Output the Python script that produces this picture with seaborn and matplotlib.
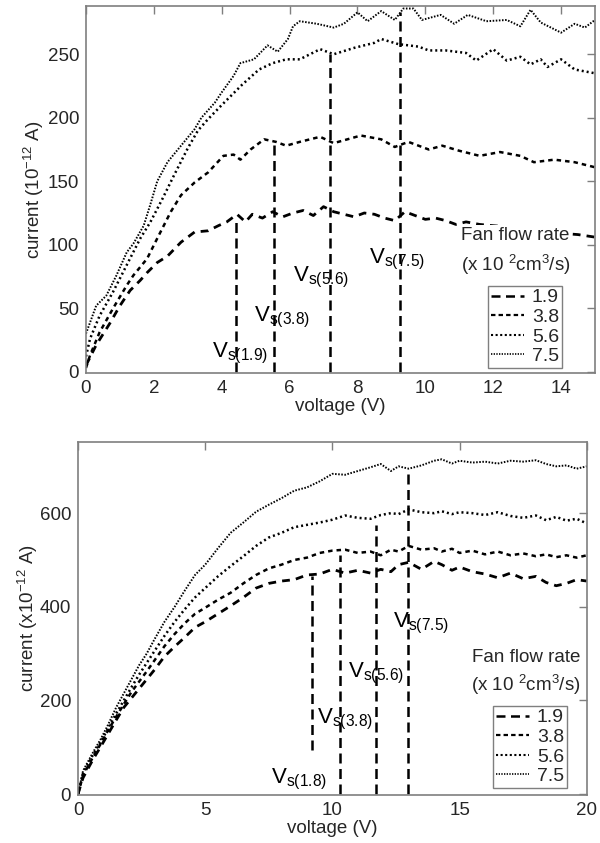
import matplotlib
matplotlib.use("Agg")
import matplotlib.pyplot as plt
import numpy as np
import pandas as pd
import seaborn as sns
from matplotlib.lines import Line2D

sns.set_style("white")
plt.rcParams["font.family"] = ["Liberation Sans", "DejaVu Sans"]
plt.rcParams["mathtext.fontset"] = "custom"
plt.rcParams["mathtext.rm"] = "Liberation Sans"
plt.rcParams["mathtext.it"] = "Liberation Sans:italic"
plt.rcParams["mathtext.bf"] = "Liberation Sans:bold"

# ---------------- data: top panel ----------------
rates = ["1.9", "3.8", "5.6", "7.5"]

top_x_19 = [0, 0.3, 0.7, 1.0, 1.3, 1.6, 1.8, 2.1, 2.4, 2.8, 3.2, 3.6, 3.9, 4.15, 4.45, 4.7, 4.9, 5.2, 5.5, 5.8,
            6.1, 6.4, 6.7, 7.0, 7.3, 7.6, 7.9, 8.2, 8.5, 8.8, 9.1, 9.4, 9.7, 10.0, 10.3, 10.6, 10.9, 11.2,
            11.6, 12.0, 12.5, 13.0, 13.5, 14.0, 14.5, 15.0]
top_y_19 = [5, 21, 38, 52, 64, 72, 78, 86, 91, 102, 110, 111, 115, 118, 124, 118, 124, 121, 126, 122,
            125, 127, 123, 130, 126, 124, 122, 125, 124, 121, 119, 126, 123, 120, 121, 119, 116, 118,
            116, 115, 114, 112, 110, 109, 108, 106]

top_x_38 = [0, 0.12, 0.4, 0.8, 1.2, 1.4, 1.8, 2.1, 2.5, 2.8, 3.2, 3.6, 4.05, 4.35, 4.55, 4.85, 5.25, 5.6,
            5.9, 6.3, 6.9, 7.3, 7.7, 8.1, 8.7, 9.1, 9.5, 10.1, 10.5, 11.0, 11.6, 12.2, 12.8, 13.2, 13.8,
            14.4, 15.0]
top_y_38 = [3, 13, 31, 50, 68, 76, 89, 105, 126, 139, 149, 157, 170, 171, 167, 175, 183, 181,
            178, 181, 185, 180, 183, 186, 183, 177, 181, 175, 178, 174, 170, 173, 170, 165, 167,
            165, 161]

top_x_56 = [0, 0.12, 0.4, 0.8, 1.2, 1.6, 1.9, 2.25, 2.6, 3.0, 3.3, 3.6, 4.0, 4.3, 4.6, 5.1, 5.5, 5.9,
            6.3, 6.9, 7.3, 7.9, 8.5, 8.7, 9.2, 9.8, 10.1, 10.6, 11.2, 11.5, 12.0, 12.4, 12.8, 13.1,
            13.4, 13.6, 14.0, 14.4, 15.0]
top_y_56 = [12, 26, 44, 63, 84, 105, 118, 136, 155, 176, 190, 199, 210, 218, 226, 238, 243, 246,
            246, 254, 250, 255, 259, 262, 258, 256, 253, 253, 251, 245, 254, 245, 248, 242,
            246, 240, 246, 238, 235]

top_x_75 = [0, 0.3, 0.6, 0.9, 1.2, 1.4, 1.7, 1.9, 2.1, 2.4, 2.8, 3.2, 3.4, 3.8, 4.0, 4.35, 4.55, 4.95,
            5.35, 5.65, 5.95, 6.1, 6.3, 6.8, 7.3, 7.6, 8.0, 8.3, 8.7, 9.1, 9.35, 9.65, 9.9, 10.45,
            10.85, 11.25, 11.8, 12.4, 12.8, 13.1, 13.4, 14.0, 14.4, 14.7, 15.0]
top_y_75 = [30, 52, 60, 76, 94, 101, 115, 132, 150, 165, 178, 191, 200, 212, 220, 233, 243, 246,
            257, 252, 262, 272, 276, 274, 271, 274, 283, 276, 284, 277, 286, 286, 277, 281,
            274, 281, 276, 277, 272, 285, 275, 267, 274, 271, 277]

top_vs_x = [4.43, 5.55, 7.2, 9.24]
top_vs_top = [118, 181, 250, 283]
top_vs_labels = ["1.9", "3.8", "5.6", "7.5"]
top_lab_x = [3.7, 4.95, 6.1, 8.35]
top_lab_y = [11, 40, 71, 85]

# ---------------- data: bottom panel ----------------
bot_x = [0, 0.1, 0.2, 0.4, 0.6, 0.9, 1.2, 1.5, 1.8, 2.1, 2.4, 2.7, 3.0, 3.4, 3.8, 4.2, 4.6, 5.0, 5.5,
         6.0, 6.5, 7.0, 7.5, 8.0, 8.5, 9.0, 9.5, 10.0, 10.5, 11.0, 11.5, 11.9, 12.3, 12.6, 13.0, 13.5,
         14.0, 14.3, 14.7, 15.0, 15.5, 16.0, 16.5, 17.0, 17.5, 18.0, 18.4, 18.8, 19.2, 19.6, 20.0]
bot_y_75 = [0, 25, 50, 70, 90, 118, 150, 185, 215, 245, 275, 300, 330, 368, 400, 435, 468, 490, 525,
            558, 580, 603, 618, 632, 648, 655, 668, 684, 682, 690, 698, 705, 690, 700, 695, 702,
            712, 715, 706, 712, 708, 710, 706, 712, 710, 713, 705, 700, 702, 695, 700]
bot_y_56 = [0, 22, 45, 65, 85, 112, 142, 172, 200, 228, 255, 280, 305, 338, 368, 395, 420, 440, 465,
            487, 508, 530, 548, 558, 570, 575, 580, 586, 595, 590, 588, 596, 600, 598, 608, 602,
            600, 604, 598, 602, 600, 596, 602, 594, 590, 595, 585, 592, 584, 588, 578]
bot_y_38 = [0, 20, 40, 60, 80, 108, 138, 165, 192, 218, 240, 262, 285, 316, 342, 365, 385, 398, 415,
            430, 450, 468, 482, 490, 500, 505, 515, 520, 522, 515, 518, 510, 522, 518, 530, 522,
            525, 518, 524, 515, 520, 512, 518, 510, 514, 508, 512, 506, 510, 505, 510]
bot_y_19 = [0, 18, 35, 55, 75, 102, 130, 158, 185, 205, 225, 245, 265, 294, 315, 335, 356, 368, 385,
            402, 420, 440, 450, 455, 458, 468, 470, 480, 472, 478, 472, 480, 475, 490, 495, 480,
            497, 490, 478, 485, 475, 470, 462, 472, 460, 465, 452, 445, 450, 458, 455]

bot_vs_x = [9.18, 10.3, 11.71, 12.97]
bot_vs_lo = [94, 0, 0, 0]
bot_vs_hi = [465, 510, 575, 695]
bot_vs_labels = ["1.8", "3.8", "5.6", "7.5"]
bot_lab_x = [7.6, 9.38, 10.6, 12.4]
bot_lab_y = [23, 152, 250, 355]

# ---------------- styles ----------------
line_styles = {
    "1.9": dict(linewidth=2.0, linestyle=(0, (2.8, 2.2))),
    "3.8": dict(linewidth=1.8, linestyle=(0, (1.8, 1.6))),
    "5.6": dict(linewidth=1.8, linestyle=(0, (0.8, 1.2))),
    "7.5": dict(linewidth=1.4, linestyle=(0, (0.8, 0.8))),
}
legend_styles = {
    "1.9": dict(linewidth=1.8, linestyle=(0, (3.6, 2.2))),
    "3.8": dict(linewidth=1.6, linestyle=(0, (2.0, 1.4))),
    "5.6": dict(linewidth=1.5, linestyle=(0, (1.0, 1.2))),
    "7.5": dict(linewidth=1.2, linestyle=(0, (0.8, 0.8))),
}
GRAY = "#7f7f7f"
FS = 13.5

fig = plt.figure(figsize=(6.0, 8.43), dpi=100)
ax1 = fig.add_axes([0.1433, 0.5575, 0.8484, 0.4354])
ax2 = fig.add_axes([0.13, 0.0569, 0.848, 0.4188])

top_series = {"1.9": (top_x_19, top_y_19), "3.8": (top_x_38, top_y_38),
              "5.6": (top_x_56, top_y_56), "7.5": (top_x_75, top_y_75)}
bot_series = {"1.9": (bot_x, bot_y_19), "3.8": (bot_x, bot_y_38),
              "5.6": (bot_x, bot_y_56), "7.5": (bot_x, bot_y_75)}


def draw_panel(ax, series, vs_x, vs_lo, vs_hi, vs_labels, lab_x, lab_y,
               xlim, ylim, xticks, yticks, ylabel, ylabelpad, title_xy, legend_anchor):
    for r in rates:
        xs, ys = series[r]
        df = pd.DataFrame({"V": xs, "I": ys})
        sns.lineplot(data=df, x="V", y="I", ax=ax, color="black", errorbar=None,
                     legend=False, **line_styles[r])
    ax.vlines(vs_x, vs_lo, vs_hi, colors="black", linewidth=1.8,
              linestyles=[(0, (4.0, 2.2))])
    for lab, lx, ly in zip(vs_labels, lab_x, lab_y):
        ax.text(lx, ly, r"V$_{\mathregular{s(" + lab + r")}}$", fontsize=16,
                ha="left", va="baseline", color="black")
    ax.set_xlim(*xlim)
    ax.set_ylim(*ylim)
    ax.set_xticks(xticks)
    ax.set_yticks(yticks)
    ax.set_xlabel("voltage (V)", fontsize=FS, labelpad=1)
    ax.set_ylabel(ylabel, fontsize=FS, labelpad=ylabelpad)
    ax.tick_params(direction="in", top=True, right=True, length=6, width=1,
                   color=GRAY, labelsize=FS, pad=5)
    for sp in ax.spines.values():
        sp.set_color(GRAY)
        sp.set_linewidth(1.2)
    tx, ty1, ty2 = title_xy
    ax.text(tx, ty1, "Fan flow rate", fontsize=FS, ha="center", va="center",
            bbox=dict(fc="white", ec="none", pad=1.5), zorder=5)
    ax.text(tx, ty2, r"(x 10 $^{2}$cm$^{3}$/s)", fontsize=FS, ha="center", va="center",
            bbox=dict(fc="white", ec="none", pad=1.5), zorder=5)
    handles = [Line2D([0], [0], color="black", **legend_styles[r]) for r in rates]
    leg = ax.legend(handles, rates, loc="lower right", bbox_to_anchor=legend_anchor,
                    borderaxespad=0, fontsize=14, frameon=True, fancybox=False,
                    framealpha=1, edgecolor=GRAY, borderpad=0.15, labelspacing=0.1,
                    handlelength=1.7, handletextpad=0.4)
    leg.get_frame().set_linewidth(1.0)
    leg.set_zorder(6)


draw_panel(ax1, top_series, top_vs_x, [0] * 4, top_vs_top, top_vs_labels, top_lab_x, top_lab_y,
           (0, 15), (-1, 288), [0, 2, 4, 6, 8, 10, 12, 14], [0, 50, 100, 150, 200, 250],
           r"current (10$^{-12}$ A)", 1, (12.65, 107, 84), (0.935, 0.0136))

draw_panel(ax2, bot_series, bot_vs_x, bot_vs_lo, bot_vs_hi, bot_vs_labels, bot_lab_x, bot_lab_y,
           (0, 20), (-2, 752), [0, 5, 10, 15, 20], [0, 200, 400, 600],
           r"current (x10$^{-12}$ A)", 0, (17.6, 291, 233), (0.961, 0.0198))

fig.savefig("out.png", dpi=100)
